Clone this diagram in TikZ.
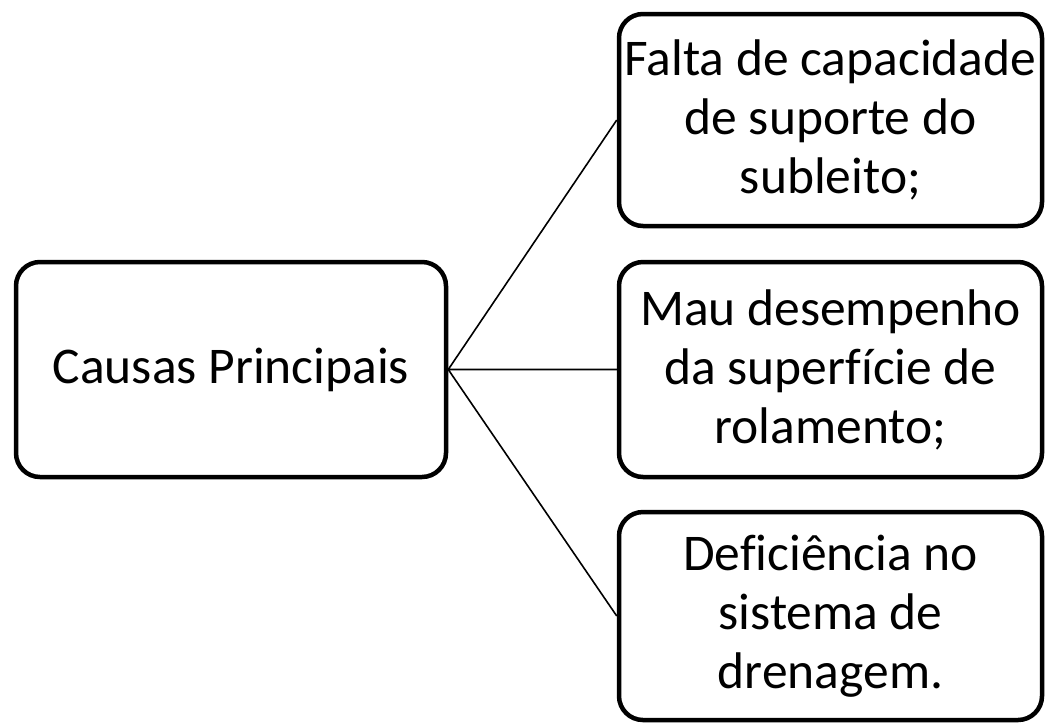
\documentclass[tikz,border=0pt]{standalone}
\usepackage{fontspec}
\setmainfont[Ligatures=NoCommon]{Carlito}
\usetikzlibrary{positioning}
\tikzset{
	causebox/.style={draw, line width=4.5pt, rounded corners=24pt, inner sep=0pt, align=center,
		font=\fontsize{51.5pt}{59pt}\selectfont},
	link/.style={line width=1.6pt},
}
\begin{document}
\begin{tikzpicture}[x=1pt,y=-1pt]
	\useasboundingbox (0,0) rectangle (1046,724);
	\node[causebox,minimum width=430pt,minimum height=215pt] (causas) at (231,369.5) {Causas Principais};
	\node[causebox,minimum width=423pt,minimum height=212pt] (falta) at (830.5,120) {Falta de capacidade\\de suporte do\\subleito;};
	\node[causebox,minimum width=423pt,minimum height=215pt] (mau) at (830.5,369.5) {Mau desempenho\\da superfície de\\rolamento;};
	\node[causebox,minimum width=423pt,minimum height=208pt] (def) at (830.5,616) {Deficiência no\\sistema de\\drenagem.};
	\draw [link] (causas.east) -- (falta.west) (causas.east) -- (mau.west) (causas.east) -- (def.west);
\end{tikzpicture}
\end{document}
